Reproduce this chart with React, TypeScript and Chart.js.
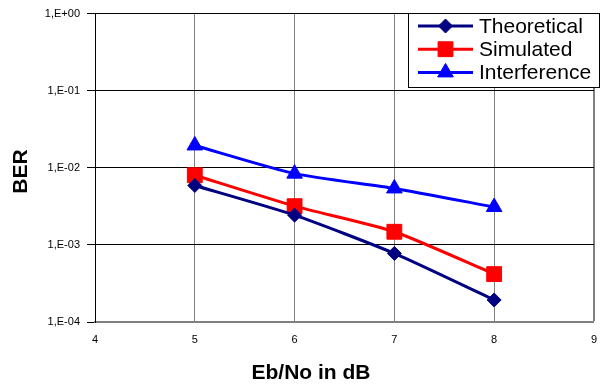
import React, { useEffect, useRef } from 'react';
import { Chart, registerables } from 'chart.js';
import { drawPoint } from 'chart.js/helpers';

Chart.register(...registerables);

// ---- data ----
const xValues = [5, 6, 7, 8];
const theoretical = [5.9e-3, 2.43e-3, 7.75e-4, 1.93e-4];
const simulated = [8.0e-3, 3.18e-3, 1.48e-3, 4.18e-4];
const interference = [1.95e-2, 8.4e-3, 5.4e-3, 3.1e-3];
const seriesNames = ['Theoretical', 'Simulated', 'Interference'];
const seriesColors = ['#000080', '#FF0000', '#0000FF'];
const seriesMarkers = ['rectRot', 'rect', 'triangle'];
const seriesMarkerRadius = [7, 10.5, 9];
const yTickValues = [1e-4, 1e-3, 1e-2, 1e-1, 1];
const yTickLabels = ['1,E-04', '1,E-03', '1,E-02', '1,E-01', '1,E+00'];
const xMin = 4;
const xMax = 9;
const xTitle = 'Eb/No in dB';
const yTitle = 'BER';

const FONT = '"Liberation Sans", Arial, sans-serif';

const overlayPlugin = {
  id: 'overlay',
  afterDraw(chart: any) {
    const ctx = chart.ctx as CanvasRenderingContext2D;
    ctx.save();
    // axis titles
    ctx.fillStyle = '#000';
    ctx.font = `bold 21px ${FONT}`;
    ctx.textAlign = 'center';
    ctx.textBaseline = 'middle';
    ctx.fillText(xTitle, 311, 373);
    ctx.save();
    ctx.translate(21.5, 171.5);
    ctx.rotate(-Math.PI / 2);
    ctx.fillText(yTitle, 0, 0);
    ctx.restore();

    // legend
    const bx = 408, by = 13, bw = 192, bh = 75;
    ctx.fillStyle = '#fff';
    ctx.fillRect(bx, by, bw, bh);
    ctx.strokeStyle = '#000';
    ctx.lineWidth = 1;
    ctx.strokeRect(bx + 0.5, by + 0.5, bw - 1, bh - 1);
    chart.data.datasets.forEach((ds: any, i: number) => {
      const y = 26 + i * 23.2;
      ctx.strokeStyle = ds.borderColor;
      ctx.lineWidth = 3;
      ctx.beginPath();
      ctx.moveTo(418, y);
      ctx.lineTo(473, y);
      ctx.stroke();
      ctx.fillStyle = ds.pointBackgroundColor;
      ctx.strokeStyle = ds.pointBorderColor;
      ctx.lineWidth = 1;
      drawPoint(ctx, { pointStyle: ds.pointStyle, rotation: 0, radius: ds.pointRadius, borderWidth: 1 } as any, 445.5, y);
      ctx.fillStyle = '#000';
      ctx.font = `21px ${FONT}`;
      ctx.textAlign = 'left';
      ctx.textBaseline = 'middle';
      ctx.fillText(ds.label, 479, y + 1);
    });
    ctx.restore();
  },
};

export default function App() {
  const ref = useRef<HTMLCanvasElement | null>(null);
  useEffect(() => {
    if (!ref.current) return;
    const series = [theoretical, simulated, interference];
    const chart = new Chart(ref.current, {
      type: 'line',
      data: {
        datasets: series.map((vals, i) => ({
          label: seriesNames[i],
          data: xValues.map((x, j) => ({ x, y: vals[j] })),
          borderColor: seriesColors[i],
          backgroundColor: seriesColors[i],
          pointBackgroundColor: seriesColors[i],
          pointBorderColor: seriesColors[i],
          pointStyle: seriesMarkers[i],
          pointRadius: seriesMarkerRadius[i],
          pointBorderWidth: 1,
          borderWidth: 3,
          tension: 0.2,
          fill: false,
        })),
      },
      options: {
        animation: false,
        responsive: false,
        devicePixelRatio: 1,
        layout: { padding: { top: 13, right: 13, left: 0, bottom: 0 } },
        plugins: { legend: { display: false }, tooltip: { enabled: false }, title: { display: false } },
        scales: {
          x: {
            type: 'linear',
            min: xMin,
            max: xMax,
            afterFit: (s: any) => { s.height = 63; },
            ticks: { stepSize: 1, color: '#000', font: { family: FONT, size: 11 }, padding: 11 },
            grid: {
              color: '#808080',
              lineWidth: (c: any) => (c.tick && c.tick.value === xMax ? 2 : 1),
              drawTicks: false,
            },
            border: { color: '#808080', width: 2 },
          },
          y: {
            type: 'logarithmic',
            min: yTickValues[0],
            max: yTickValues[yTickValues.length - 1],
            afterFit: (s: any) => { s.width = 95; },
            afterBuildTicks: (s: any) => { s.ticks = yTickValues.map((v) => ({ value: v })); },
            ticks: {
              color: '#000',
              font: { family: FONT, size: 11 },
              padding: 7,
              callback: (v: any) => {
                const idx = yTickValues.findIndex((t) => Math.abs(Math.log10(t) - Math.log10(Number(v))) < 1e-6);
                return idx >= 0 ? yTickLabels[idx] : '';
              },
            },
            grid: { color: '#000', lineWidth: 1, tickLength: 8 },
            border: { color: '#000', width: 1 },
          },
        },
      },
      plugins: [overlayPlugin],
    } as any);
    return () => chart.destroy();
  }, []);
  return (
    <div style={{ position: 'absolute', left: 0, top: 0, width: 608, height: 385, background: '#fff' }}>
      <canvas ref={ref} width={608} height={385} style={{ width: 608, height: 385, display: 'block' }} />
    </div>
  );
}
